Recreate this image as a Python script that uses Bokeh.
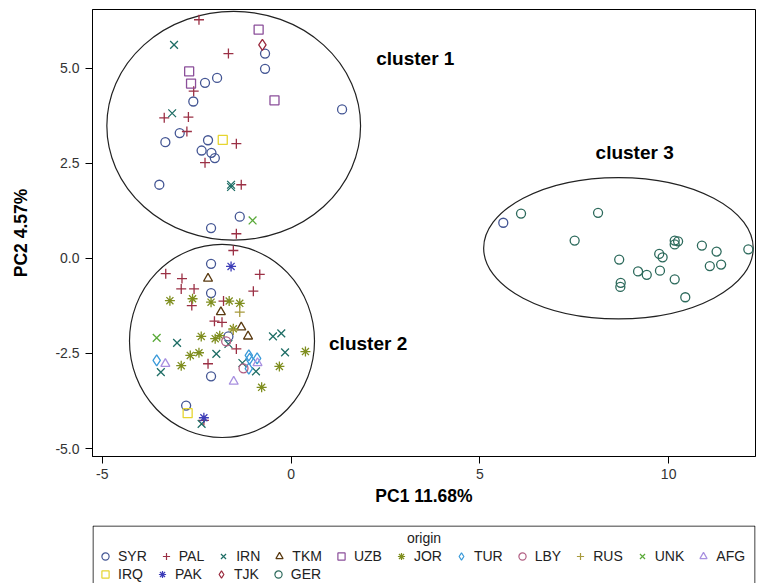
from bokeh.plotting import figure
from bokeh.models import Range1d, FixedTicker, Legend, LegendItem, Label
from bokeh.layouts import column
from bokeh.embed import file_html
from bokeh.resources import INLINE

# ---------------- data ----------------
origins = ["SYR", "PAL", "IRN", "TKM", "UZB", "JOR", "TUR", "LBY", "RUS",
           "UNK", "AFG", "IRQ", "PAK", "TJK", "GER"]

syr_x = [-0.69, -0.69, -1.96, -2.28, -2.59, 1.35, -2.95, -3.33, -2.20, -2.37,
         -2.11, -2.02, -3.49, -1.36, -2.12, -2.12, -2.12, -1.66, -2.12, -2.78, 5.62]
syr_y = [5.39, 4.99, 4.75, 4.62, 4.13, 3.92, 3.30, 3.06, 3.11, 2.84,
         2.78, 2.64, 1.94, 1.10, 0.80, -0.14, -0.91, -2.05, -3.10, -3.87, 0.94]

pal_x = [-2.44, -1.66, -2.58, -3.36, -2.72, -2.76, -1.45, -2.28, -1.32, -1.45,
         -1.53, -3.32, -2.89, -0.83, -2.91, -2.57, -1.00, -2.63, -1.79, -2.03,
         -1.83, -1.45, -2.20, -2.31]
pal_y = [6.28, 5.39, 4.40, 3.70, 3.72, 3.34, 3.02, 2.52, 1.94, 0.65,
         0.21, -0.40, -0.53, -0.42, -0.80, -0.80, -0.86, -1.24, -1.12, -1.65,
         -1.68, -2.38, -2.77, -4.26]

irn_x = [-3.10, -3.15, -1.59, -1.59, -3.02, -1.66, -0.48, -0.26, -0.16, -1.98,
         -3.45, -1.29, -0.93, -2.37]
irn_y = [5.62, 3.82, 1.94, 1.88, -2.22, -2.25, -2.05, -1.97, -2.47, -2.51,
         -2.99, -2.75, -2.97, -4.35]

tkm_x = [-2.20, -1.86, -1.32, -1.14]
tkm_y = [-0.53, -1.41, -1.81, -2.05]

uzb_x = [-0.86, -2.70, -2.65, -0.44]
uzb_y = [6.02, 4.92, 4.60, 4.16]

jor_x = [-3.21, -2.61, -2.12, -1.64, -1.36, -2.38, -2.01, -1.89, 0.38, -2.67,
         -2.44, -2.91, -0.31, -0.78, -1.53]
jor_y = [-1.11, -1.06, -1.15, -1.12, -1.18, -2.05, -2.11, -2.03, -2.45, -2.55,
         -2.48, -2.82, -2.84, -3.39, -1.85]

tur_x = [-3.56, -1.12, -1.10, -1.12, -0.90]
tur_y = [-2.68, -2.55, -2.64, -2.90, -2.63]

lby_x = [-1.72, -1.26]
lby_y = [-2.18, -2.89]

rus_x = [-1.36, -1.53]
rus_y = [-1.41, -1.88]

unk_x = [-1.02, -3.56]
unk_y = [1.00, -2.09]

afg_x = [-3.33, -0.89, -1.52]
afg_y = [-2.77, -2.75, -3.24]

irq_x = [-1.81, -2.74]
irq_y = [3.12, -4.07]

pak_x = [-1.59, -2.31]
pak_y = [-0.21, -4.19]

tjk_x = [-0.76]
tjk_y = [5.62]

ger_x = [6.09, 8.13, 7.51, 8.69, 8.73, 8.72, 9.19, 9.42, 9.77, 9.75, 9.84,
         10.16, 10.25, 10.16, 10.16, 10.44, 10.88, 11.27, 11.09, 11.39, 12.11]
ger_y = [1.18, 1.20, 0.47, -0.03, -0.64, -0.75, -0.34, -0.43, -0.32, 0.12, 0.03,
         0.47, 0.45, 0.37, -0.55, -1.02, 0.34, 0.18, -0.20, -0.16, 0.24]

series_x = [syr_x, pal_x, irn_x, tkm_x, uzb_x, jor_x, tur_x, lby_x, rus_x,
            unk_x, afg_x, irq_x, pak_x, tjk_x, ger_x]
series_y = [syr_y, pal_y, irn_y, tkm_y, uzb_y, jor_y, tur_y, lby_y, rus_y,
            unk_y, afg_y, irq_y, pak_y, tjk_y, ger_y]

# cluster ellipses: centre x, centre y, half-width, half-height
cluster_names = ["cluster 1", "cluster 2", "cluster 3"]
ell_cx = [-1.52, -1.83, 8.67]
ell_cy = [3.49, -2.17, 0.27]
ell_rx = [3.36, 2.45, 3.57]
ell_ry = [3.01, 2.54, 1.86]
label_x = [3.29, 2.04, 9.10]
label_y = [5.26, -2.24, 2.79]

x_ticks = [-5, 0, 5, 10]
x_tick_labels = ["-5", "0", "5", "10"]
y_ticks = [-5.0, -2.5, 0.0, 2.5, 5.0]
y_tick_labels = ["-5.0", "-2.5", "0.0", "2.5", "5.0"]

legend_title = "origin"
legend_rows = [11, 4]   # number of legend entries per row

# ---------------- styles ----------------
markers = ["circle", "cross", "x", "triangle", "square", "asterisk", "diamond",
           "circle", "cross", "x", "triangle", "square", "asterisk", "diamond",
           "circle"]
colors = ["#445694", "#9B3045", "#1F6E66", "#5A3A10", "#8B4F9A", "#7F8E1F",
          "#3A9AD9", "#B26084", "#A89A3C", "#5BAA3A", "#A890E0", "#E6D530",
          "#3D3DB8", "#9A2A3E", "#2D6A5C"]
sizes = [9, 10, 11, 9, 9, 10, 11, 9, 10, 11, 9, 9, 10, 11, 9]

FONT = "Liberation Sans"

p = figure(width=765, height=525, output_backend="svg", toolbar_location=None,
           x_range=Range1d(-5.26, 12.30), y_range=Range1d(-5.21, 6.55),
           min_border_left=82, min_border_right=3, min_border_top=9,
           min_border_bottom=69)
p.grid.visible = False
p.outline_line_color = "black"
p.outline_line_width = 1
p.background_fill_color = "white"
p.border_fill_color = "white"

for ax in (p.xaxis[0], p.yaxis[0]):
    ax.axis_line_color = "black"
    ax.major_tick_line_color = "black"
    ax.major_tick_in = 0
    ax.major_tick_out = 7
    ax.minor_tick_line_color = None
    ax.major_label_text_font = FONT
    ax.major_label_text_font_size = "14px"
    ax.major_label_text_color = "#333333"
    ax.axis_label_text_font = FONT
    ax.axis_label_text_font_style = "bold"
    ax.axis_label_text_font_size = "17.5px"
    ax.axis_label_text_color = "black"

p.xaxis[0].ticker = FixedTicker(ticks=x_ticks)
p.xaxis[0].major_label_overrides = dict(zip(x_ticks, x_tick_labels))
p.yaxis[0].ticker = FixedTicker(ticks=y_ticks)
p.yaxis[0].major_label_overrides = dict(zip(y_ticks, y_tick_labels))
p.xaxis[0].axis_label = "PC1 11.68%"
p.yaxis[0].axis_label = "PC2 4.57%"
p.xaxis[0].major_label_standoff = 5
p.yaxis[0].major_label_standoff = 6
p.xaxis[0].axis_label_standoff = 4
p.yaxis[0].axis_label_standoff = 21

# ellipses
p.ellipse(x=ell_cx, y=ell_cy, width=[2 * r for r in ell_rx],
          height=[2 * r for r in ell_ry], fill_alpha=0,
          line_color="#222222", line_width=1.2)

for xs, ys, m, c, s in zip(series_x, series_y, markers, colors, sizes):
    p.scatter(x=xs, y=ys, marker=m, size=s, line_color=c, fill_alpha=0,
              line_width=1.3)

for t, lx, ly in zip(cluster_names, label_x, label_y):
    p.add_layout(Label(x=lx, y=ly, text=t, text_font=FONT, text_font_style="bold",
                       text_font_size="19px", text_align="center",
                       text_baseline="middle", text_color="black"))

# ---------------- legend panel ----------------
# pixel-like coordinate system, placed away from the data so that the legend
# keys (which reuse the series data) stay out of view
X0 = 1000.0
p2 = figure(width=765, height=58, output_backend="svg", toolbar_location=None,
            x_range=Range1d(X0, X0 + 663), y_range=Range1d(-58, 0),
            min_border_left=92, min_border_right=10, min_border_top=0,
            min_border_bottom=0)
p2.axis.visible = False
p2.grid.visible = False
p2.outline_line_color = None
p2.background_fill_color = "white"
p2.border_fill_color = "white"

# box (open at the bottom, cut by the picture edge)
p2.line(x=[X0 + 0.5, X0 + 0.5, X0 + 662.5, X0 + 662.5], y=[-80, -0.5, -0.5, -80],
        line_color="black", line_width=1)
p2.add_layout(Label(x=X0 + 331.5, y=-12, text=legend_title, text_font=FONT,
                    text_font_size="14px", text_align="center",
                    text_baseline="middle", text_color="#222222"))

keys = []
for xs, ys, m, c in zip(series_x, series_y, markers, colors):
    r = p2.scatter(x=xs, y=ys, marker=m, size=8, line_color=c, fill_alpha=0,
                   line_width=1.2)
    keys.append(r)

start = 0
row_y = [18, 0]
for n, ly in zip(legend_rows, row_y):
    items = [LegendItem(label=origins[i], renderers=[keys[i]])
             for i in range(start, start + n)]
    start += n
    lg = Legend(items=items, orientation="horizontal", location=(4, ly),
                border_line_alpha=0, background_fill_alpha=0,
                label_text_font=FONT, label_text_font_size="14px",
                label_text_color="#222222", glyph_width=18, glyph_height=18,
                label_height=18, label_standoff=4, spacing=10, padding=0,
                margin=0)
    p2.add_layout(lg, "center")

layout = column(p, p2, spacing=0)
open("out.html", "w").write(file_html(layout, INLINE))
